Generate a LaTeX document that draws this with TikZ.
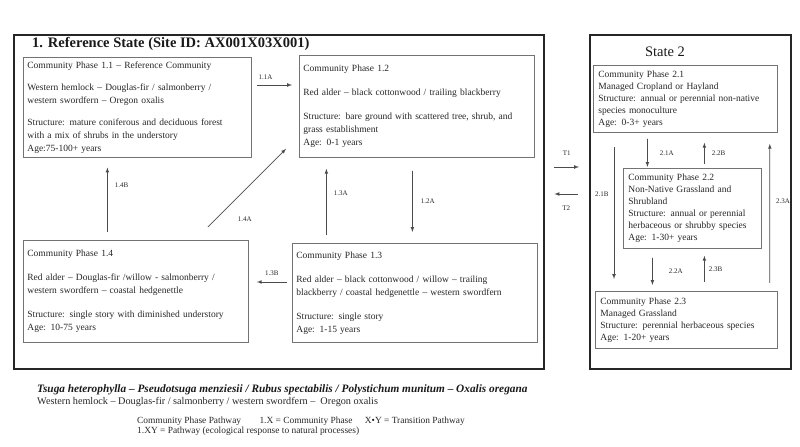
\documentclass[tikz,border=0pt]{standalone}
\usepackage{fontspec}
\setmainfont{Liberation Serif}
\usetikzlibrary{arrows,
                positioning}
\tikzset{phase/.style =
   {rectangle,
    draw=black!55,
    line width=0.8bp,
    anchor=north west,
    align=left,
    inner sep=4bp,
    text=black!85,
    font=\fontsize{9.5bp}{13bp}\selectfont}}
\tikzset{phasetwo/.style =
   {phase,
    inner sep=5bp,
    font=\fontsize{9.5bp}{12bp}\selectfont}}
\tikzset{statebox/.style =
   {rectangle,
    draw=black!85,
    line width=2.4bp,
    anchor=north west,
    inner sep=0pt}}
\tikzset{arrow/.style = {draw=black!70, line width=0.7bp, -latex}}
\tikzset{pathlabel/.style = {text=black!85, inner sep=0pt, font=\fontsize{7bp}{8bp}\selectfont}}
\tikzset{legend/.style = {text=black!85, inner sep=0pt, anchor=west, font=\fontsize{9.4bp}{10bp}\selectfont}}

\begin{document}
\begin{tikzpicture}[x=1bp, y=-1bp]

    \useasboundingbox (0,0) rectangle (800,447);

    % the two states
    \node [statebox, minimum width=530bp, minimum height=334bp] (s1) at (13,34) {};
    \node [statebox, minimum width=201bp, minimum height=334bp] (s2) at (589,34) {};

    \node [anchor=west, inner sep=0pt, text=black!90, font=\bfseries\fontsize{14.5bp}{16bp}\selectfont] (s1title)
     at ([shift={(19,10)}]s1.north west) {1. Reference State (Site ID: AX001X03X001)};
    \node [text=black!90, font=\fontsize{14.5bp}{16bp}\selectfont] (s2title)
     at ([shift={(76,18)}]s2.north west) {State 2};

    % community phases, state 1
    \node [phase, text width=220bp, minimum height=99bp] (p11) at (23,57)
    {Community Phase 1.1 -- Reference Community\\[9bp]
     Western hemlock -- Douglas-fir / salmonberry /\\
     western swordfern -- Oregon oxalis\\[9bp]
     Structure: mature coniferous and deciduous forest\\
     with a mix of shrubs in the understory\\
     Age:75-100+ years};

    \node [phase, text width=227bp, minimum height=102bp] (p12) at (299,55)
    {Community Phase 1.2\\[11bp]
     Red alder -- black cottonwood / trailing blackberry\\[11bp]
     Structure: bare ground with scattered tree, shrub, and\\
     grass establishment\\
     Age: 0-1 years};

    \node [phase, text width=237bp, minimum height=99bp] (p13) at (292,243)
    {Community Phase 1.3\\[11bp]
     Red alder -- black cottonwood / willow -- trailing\\
     blackberry / coastal hedgenettle -- western swordfern\\[11bp]
     Structure: single story\\
     Age: 1-15 years};

    \node [phase, text width=217bp, minimum height=102bp] (p14) at (23,240)
    {Community Phase 1.4\\[11bp]
     Red alder -- Douglas-fir /willow - salmonberry /\\
     western swordfern -- coastal hedgenettle\\[11bp]
     Structure: single story with diminished understory\\
     Age: 10-75 years};

    % community phases, state 2
    \node [phasetwo, text width=174bp, minimum height=67bp] (p21) at (593,65)
    {Community Phase 2.1\\
     Managed Cropland or Hayland\\
     Structure: annual or perennial non-native\\
     species monoculture\\
     Age: 0-3+ years};

    \node [phasetwo, text width=128bp, minimum height=80bp] (p22) at (623,168)
    {Community Phase 2.2\\
     Non-Native Grassland and\\
     Shrubland\\
     Structure: annual or perennial\\
     herbaceous or shrubby species\\
     Age: 1-30+ years};

    \node [phasetwo, text width=172bp, minimum height=57bp] (p23) at (595,291)
    {Community Phase 2.3\\
     Managed Grassland\\
     Structure: perennial herbaceous species\\
     Age: 1-20+ years};

    % pathways, state 1
    \draw [arrow] ([shift={(5,28)}]p11.north east) -- ([shift={(-7,30)}]p12.north west)
     node [pathlabel, pos=0.25, above=5bp] (l11a) {1.1A};
    \draw [arrow] ([shift={(-4.5,13)}]p12.south) -- ([shift={(-2.5,-11)}]p13.north)
     node [pathlabel, midway, right=8bp] (l12a) {1.2A};
    \draw [arrow] ([shift={(-88.5,-8)}]p13.north) -- ([shift={(-90.5,11)}]p12.south)
     node [pathlabel, pos=0.63, right=7bp] (l13a) {1.3A};
    \draw [arrow] ([shift={(-5,39)}]p13.north west) -- ([shift={(8,42)}]p14.north east)
     node [pathlabel, midway, above=6bp] (l13b) {1.3B};
    \draw [arrow] ([shift={(-28.5,-8)}]p14.north) -- ([shift={(-30,10)}]p11.south)
     node [pathlabel, pos=0.73, right=7bp] (l14b) {1.4B};
    \draw [arrow] ([shift={(-41,-13)}]p14.north east) -- ([shift={(-13,-9)}]p12.south west)
     node [pathlabel, pos=0.1, right=22bp] (l14a) {1.4A};

    % transitions
    \draw [arrow] ([shift={(9,133)}]s1.north east) -- ([shift={(-10,133)}]s2.north west)
     node [pathlabel, midway, above=11bp] (lt1) {T1};
    \draw [arrow] ([shift={(-11,160)}]s2.north west) -- ([shift={(9,160)}]s1.north east)
     node [pathlabel, midway, below=12bp] (lt2) {T2};

    % pathways, state 2
    \draw [arrow] ([shift={(-38,6)}]p21.south) -- ([shift={(-45,-1)}]p22.north)
     node [pathlabel, midway, right=12bp] (l21a) {2.1A};
    \draw [arrow] ([shift={(12,-4)}]p22.north) -- ([shift={(19,10)}]p21.south)
     node [pathlabel, midway, right=7bp] (l22b) {2.2B};
    \draw [arrow] ([shift={(21,14)}]p21.south west) -- ([shift={(19,-12)}]p23.north west)
     node [pathlabel, pos=0.36, left=5bp] (l21b) {2.1B};
    \draw [arrow] ([shift={(-8,-8)}]p23.north east) -- ([shift={(-8,11)}]p21.south east)
     node [pathlabel, pos=0.59, right=6bp] (l23a) {2.3A};
    \draw [arrow] ([shift={(-40,9)}]p22.south) -- ([shift={(-34,-6)}]p23.north)
     node [pathlabel, midway, right=16bp] (l22a) {2.2A};
    \draw [arrow] ([shift={(18,-9)}]p23.north) -- ([shift={(12,7)}]p22.south)
     node [pathlabel, midway, right=4bp] (l23b) {2.3B};

    % species and legend
    \node [anchor=west, inner sep=0pt, text=black!90, font=\bfseries\itshape\fontsize{11.3bp}{13bp}\selectfont] (species)
     at ([shift={(24,19)}]s1.south west)
     {Tsuga heterophylla -- Pseudotsuga menziesii / Rubus spectabilis / Polystichum munitum -- Oxalis oregana};
    \node [anchor=west, inner sep=0pt, text=black!85, font=\fontsize{10.2bp}{12bp}\selectfont] (common)
     at ([shift={(24,32)}]s1.south west)
     {Western hemlock -- Douglas-fir / salmonberry / western swordfern --\ \ Oregon oxalis};

    \node [legend] (lgpath) at (137,421) {Community Phase Pathway};
    \node [legend, right=18bp of lgpath] (lgphase) {1.X = Community Phase};
    \node [legend, right=12bp of lgphase] (lgtrans) {X•Y = Transition Pathway};
    \node [legend, below=1.5bp of lgpath.south west, anchor=north west] (lgnat)
     {1.XY = Pathway (ecological response to natural processes)};

\end{tikzpicture}
\end{document}
